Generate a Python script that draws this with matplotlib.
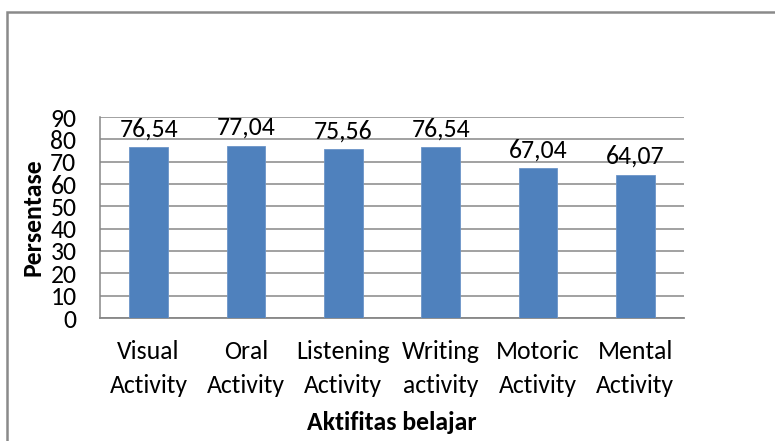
import matplotlib
matplotlib.use("Agg")
import matplotlib.pyplot as plt
from matplotlib.patches import Rectangle

categories = ["Visual\nActivity", "Oral\nActivity", "Listening\nActivity",
              "Writing\nactivity", "Motoric\nActivity", "Mental\nActivity"]
values = [76.54, 77.04, 75.56, 76.54, 67.04, 64.07]
value_labels = ["76,54", "77,04", "75,56", "76,54", "67,04", "64,07"]
yticks = [0, 10, 20, 30, 40, 50, 60, 70, 80, 90]

plt.rcParams['font.family'] = ['Carlito', 'Lato', 'DejaVu Sans']
FS = 18.5

W, H = 775, 441
fig = plt.figure(figsize=(W / 100, H / 100), dpi=100)
ax = fig.add_axes([100 / W, 1 - 318 / H, 584 / W, 201 / H])

x = list(range(len(categories)))
ax.bar(x, values, width=0.4, color='#4F81BD', edgecolor='#6C95C8', linewidth=0.6, zorder=3)
for xi, v, lab in zip(x, values, value_labels):
    ax.annotate(lab, (xi, v), xytext=(0, 5), textcoords='offset points',
                ha='center', va='bottom', fontsize=FS, color='black')

ax.set_xlim(-0.5, len(categories) - 0.5)
ax.set_ylim(0, 90)
ax.set_yticks(yticks)
ax.set_yticklabels([str(t) for t in yticks], fontsize=FS)
ax.set_xticks(x)
ax.set_xticklabels(categories, fontsize=FS, linespacing=1.55)
ax.tick_params(axis='y', length=0, pad=17)
ax.tick_params(axis='x', length=0, pad=16)
ax.grid(axis='y', color='#878787', linewidth=1.1, zorder=0)
for s in ['top', 'right']:
    ax.spines[s].set_visible(False)
ax.spines['left'].set_color('#878787')
ax.spines['bottom'].set_color('#878787')
ax.spines['left'].set_linewidth(1.1)
ax.spines['bottom'].set_linewidth(1.3)

fig.text(33 / W, 1 - 217 / H, "Persentase", rotation=90, ha='center', va='center',
         fontsize=FS, fontweight='bold')
fig.text(392 / W, 1 - 423 / H, "Aktifitas belajar", ha='center', va='center',
         fontsize=FS, fontweight='bold')

fig.patches.append(Rectangle((7 / W, -0.2), 1.2, 1.2 - 12 / H + 0.0,
                             transform=fig.transFigure, fill=False,
                             edgecolor='#8a8a8a', linewidth=1.8))

fig.savefig("out.png", dpi=100)
